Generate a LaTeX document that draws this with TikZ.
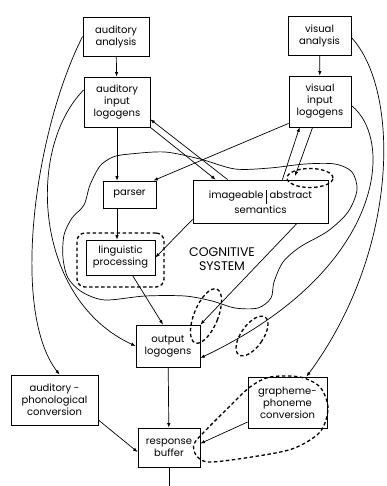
\documentclass[tikz,border=0pt]{standalone}
\usepackage{fontspec}
\setmainfont{Poppins}
\usetikzlibrary{arrows.meta, positioning, calc, shapes.geometric}

\begin{document}
\begin{tikzpicture}[
    x=1pt, y=-1pt,
    box/.style={draw, fill=white, line width=0.8pt, align=center, inner sep=0pt, font=\fontsize{10}{12}\selectfont},
    link/.style={line width=0.7pt},
    ring/.style={draw, line width=1.3pt, dash pattern=on 3.5pt off 2.5pt},
    >={Latex[length=4.5pt,width=3.5pt]}
]
\useasboundingbox (0,0) rectangle (386,486);

% Input side
\node[box, minimum width=66, minimum height=39] (audan) at (116,36.5) {auditory\\analysis};
\node[box, minimum width=63, minimum height=39] (visan) at (319.5,35.5) {visual\\analysis};
\node[box, minimum width=66, minimum height=50] (audlog) at (117,102) {auditory\\input\\logogens};
\node[box, minimum width=62, minimum height=51] (vislog) at (320,101.5) {visual\\input\\logogens};

% Cognitive system
\draw[link] plot[smooth cycle] coordinates {(130,154) (165,152) (200,159) (235,169) (270,168) (305,164) (335,164) (352,172) (357,190) (348,212) (328,231) (300,247) (283,262) (274,282) (271,298) (258,308) (235,308) (212,301) (185,296) (145,296) (105,300) (82,292) (68,278) (63,258) (64,235) (72,218) (84,205) (90,185) (100,166) (113,157)};
\node[box, minimum width=53, minimum height=27] (parser) at (129.5,194.5) {parser};
\node[box, minimum width=135, minimum height=43] (sem) at (260.5,201.5) {imageable\;\vrule height 9pt depth 5pt\;abstract\\[1pt]semantics};
\node[box, minimum width=69, minimum height=35] (ling) at (120.5,257.5) {linguistic\\processing};
\node[ring, rounded corners=8pt, minimum width=87, minimum height=54] (lingring) at (120.5,260) {};
\node[align=center, font=\fontsize{12.5}{14}\selectfont] (cogsys) at (222,259) {COGNITIVE\\SYSTEM};
\node[ring, ellipse, minimum width=46, minimum height=19] (absring) at (310,178) {};

% Output side
\node[box, minimum width=64, minimum height=42] (outlog) at (168,346) {output\\logogens};
\node[box, minimum width=87, minimum height=50] (apc) at (54.5,400) {auditory -\\phonological\\conversion};
\node[box, minimum width=79, minimum height=51] (gpc) at (287.5,402.5) {grapheme-\\phoneme\\conversion};
\node[box, minimum width=62, minimum height=39] (resp) at (169,447.5) {response\\buffer};
\coordinate (exit) at (169,486);
\node[ring, ellipse, rotate=-22, minimum width=24, minimum height=58] (outring) at (206,316) {};
\node[ring, ellipse, rotate=-35, minimum width=22, minimum height=46] (visring) at (252,336) {};
\draw[ring] plot[smooth cycle] coordinates {(250,387) (270,377) (300,377) (320,387) (328,408) (320,432) (292,449) (245,458) (208,462) (196,455) (194,444) (205,431) (228,408)};

% Connections
\draw[link, ->] (audan) -- (audlog);
\draw[link, ->] (visan) -- (vislog);
\draw[link, ->] (audlog.south) -- (audlog.south |- parser.north);
\draw[link, ->] (audlog.south |- parser.south) -- (audlog.south |- ling.north);
\draw[link, ->] ([xshift=35pt]sem.north west) -- ([yshift=8pt]audlog.south east);
\draw[link, ->] (audlog.south east) -- ([xshift=23pt]sem.north west);
\draw[link, ->] ([yshift=4pt]vislog.south west) -- ([xshift=-3pt]parser.north east);
\draw[link, ->] ([xshift=-46pt]sem.north east) -- ([xshift=11pt]vislog.south west);
\draw[link, ->] ([xshift=24pt]vislog.south west) -- ([xshift=-15pt,yshift=2pt]absring.center);
\draw[link, ->] ([yshift=4pt]sem.south west) -- (ling.east);
\draw[link, ->] ([xshift=12pt]ling.south) -- ([xshift=-5pt]outlog.north);
\draw[link, ->] ([xshift=36.5pt]sem.south) -- (outlog.north east);
\draw[link, ->] (audan.west) .. controls (35,130) and (10,310) .. ([xshift=5pt]apc.north);
\draw[link, ->] ([yshift=12pt]audlog.west) .. controls (25,150) and (35,300) .. (outlog.west);
\draw[link, ->] ([yshift=-2pt]visan.east) .. controls (400,90) and (400,250) .. ([xshift=19pt]gpc.north);
\draw[link, ->] ([yshift=-4pt]vislog.east) .. controls (395,140) and (385,270) .. ([yshift=-12pt]outlog.east);
\draw[link, ->] (outlog) -- (resp);
\draw[link, ->] ([yshift=-20pt]apc.east) -- ([yshift=-4.5pt]resp.west);
\draw[link, ->] ([yshift=-19.5pt]gpc.west) -- ([yshift=4pt]resp.east);
\draw[link] (resp) -- (exit);

\end{tikzpicture}
\end{document}
